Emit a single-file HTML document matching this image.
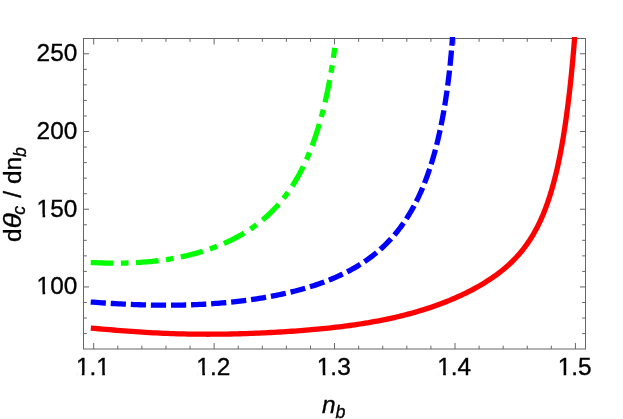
<!DOCTYPE html>
<html><head><meta charset="utf-8"><title>plot</title>
<style>
html,body{margin:0;padding:0;background:#fff;}
svg{display:block;will-change:transform;}
text{font-family:"Liberation Sans",sans-serif;font-size:24.4px;fill:#000;stroke:#000;stroke-width:0.35px;}
.it{font-style:italic;}
</style></head>
<body>
<svg width="623" height="419" viewBox="0 0 623 419">
<rect x="0" y="0" width="623" height="419" fill="#fff"/>
<defs><clipPath id="cp"><rect x="83.5" y="37.0" width="502.0" height="312.0"/></clipPath></defs>
<g stroke="#666" stroke-width="1" fill="none">
<rect x="83.5" y="38.5" width="502.0" height="310.50"/>
<path d="M93.70 349.00v-6.00M93.70 38.50v6.00"/>
<path d="M117.79 349.00v-3.30M117.79 38.50v3.30"/>
<path d="M141.87 349.00v-3.30M141.87 38.50v3.30"/>
<path d="M165.96 349.00v-3.30M165.96 38.50v3.30"/>
<path d="M190.04 349.00v-3.30M190.04 38.50v3.30"/>
<path d="M214.13 349.00v-6.00M214.13 38.50v6.00"/>
<path d="M238.22 349.00v-3.30M238.22 38.50v3.30"/>
<path d="M262.30 349.00v-3.30M262.30 38.50v3.30"/>
<path d="M286.39 349.00v-3.30M286.39 38.50v3.30"/>
<path d="M310.47 349.00v-3.30M310.47 38.50v3.30"/>
<path d="M334.56 349.00v-6.00M334.56 38.50v6.00"/>
<path d="M358.65 349.00v-3.30M358.65 38.50v3.30"/>
<path d="M382.73 349.00v-3.30M382.73 38.50v3.30"/>
<path d="M406.82 349.00v-3.30M406.82 38.50v3.30"/>
<path d="M430.90 349.00v-3.30M430.90 38.50v3.30"/>
<path d="M454.99 349.00v-6.00M454.99 38.50v6.00"/>
<path d="M479.08 349.00v-3.30M479.08 38.50v3.30"/>
<path d="M503.16 349.00v-3.30M503.16 38.50v3.30"/>
<path d="M527.25 349.00v-3.30M527.25 38.50v3.30"/>
<path d="M551.33 349.00v-3.30M551.33 38.50v3.30"/>
<path d="M575.42 349.00v-6.00M575.42 38.50v6.00"/>
<path d="M83.50 333.58h3.30M585.50 333.58h-3.30"/>
<path d="M83.50 318.04h3.30M585.50 318.04h-3.30"/>
<path d="M83.50 302.49h3.30M585.50 302.49h-3.30"/>
<path d="M83.50 286.95h5.60M585.50 286.95h-5.60"/>
<path d="M83.50 271.41h3.30M585.50 271.41h-3.30"/>
<path d="M83.50 255.86h3.30M585.50 255.86h-3.30"/>
<path d="M83.50 240.32h3.30M585.50 240.32h-3.30"/>
<path d="M83.50 224.77h3.30M585.50 224.77h-3.30"/>
<path d="M83.50 209.23h5.60M585.50 209.23h-5.60"/>
<path d="M83.50 193.69h3.30M585.50 193.69h-3.30"/>
<path d="M83.50 178.14h3.30M585.50 178.14h-3.30"/>
<path d="M83.50 162.60h3.30M585.50 162.60h-3.30"/>
<path d="M83.50 147.05h3.30M585.50 147.05h-3.30"/>
<path d="M83.50 131.51h5.60M585.50 131.51h-5.60"/>
<path d="M83.50 115.97h3.30M585.50 115.97h-3.30"/>
<path d="M83.50 100.42h3.30M585.50 100.42h-3.30"/>
<path d="M83.50 84.88h3.30M585.50 84.88h-3.30"/>
<path d="M83.50 69.33h3.30M585.50 69.33h-3.30"/>
<path d="M83.50 53.79h5.60M585.50 53.79h-5.60"/>
</g>
<g clip-path="url(#cp)" fill="none" stroke-width="5.3">
<path d="M90.70 262.46L92.58 262.56L94.46 262.64L96.33 262.72L98.19 262.80L100.05 262.87L101.90 262.93L103.74 262.98L105.57 263.03L107.39 263.06L109.21 263.10L111.02 263.12L112.83 263.14L114.62 263.15L116.41 263.15L118.20 263.14L119.97 263.13L121.74 263.10L123.50 263.07L125.25 263.04L127.00 262.99L128.74 262.94L130.47 262.88L132.19 262.81L133.91 262.73L135.62 262.65L137.32 262.55L139.01 262.45L140.70 262.34L142.38 262.23L144.05 262.10L145.72 261.97L147.38 261.83L149.03 261.68L150.67 261.52L152.31 261.35L153.94 261.18L155.56 261.00L157.17 260.81L158.78 260.61L160.38 260.41L161.97 260.20L163.56 259.97L165.13 259.75L166.71 259.51L168.27 259.26L169.82 259.01L171.37 258.75L172.92 258.48L174.45 258.21L175.98 257.92L177.50 257.63L179.01 257.33L180.51 257.02L182.01 256.71L183.50 256.39L184.98 256.05L186.46 255.72L187.93 255.37L189.39 255.02L190.84 254.65L192.29 254.29L193.73 253.91L195.16 253.52L196.59 253.13L198.01 252.73L199.42 252.32L200.82 251.91L202.22 251.48L203.60 251.05L204.98 250.61L206.36 250.17L207.73 249.71L209.08 249.25L210.44 248.78L211.78 248.30L213.12 247.82L214.45 247.33L215.77 246.82L217.09 246.32L218.40 245.80L219.70 245.27L220.99 244.74L222.28 244.20L223.56 243.65L224.83 243.09L226.09 242.53L227.35 241.96L228.60 241.37L229.84 240.78L231.08 240.19L232.31 239.58L233.53 238.97L234.74 238.34L235.95 237.71L237.15 237.07L238.34 236.42L239.52 235.77L240.70 235.10L241.87 234.42L243.03 233.74L244.19 233.05L245.33 232.35L246.47 231.64L247.61 230.92L248.73 230.19L249.85 229.45L250.96 228.70L252.07 227.94L253.17 227.18L254.26 226.40L255.34 225.62L256.41 224.82L257.48 224.02L258.54 223.20L259.59 222.38L260.64 221.54L261.68 220.70L262.71 219.84L263.73 218.98L264.75 218.10L265.76 217.22L266.76 216.32L267.76 215.42L268.75 214.50L269.73 213.57L270.70 212.63L271.66 211.68L272.62 210.72L273.57 209.75L274.52 208.77L275.45 207.77L276.38 206.77L277.31 205.75L278.22 204.73L279.13 203.69L280.03 202.64L280.92 201.57L281.81 200.50L282.68 199.42L283.56 198.32L284.42 197.21L285.28 196.09L286.12 194.96L286.97 193.82L287.80 192.66L288.63 191.49L289.45 190.32L290.26 189.13L291.07 187.92L291.86 186.71L292.66 185.48L293.44 184.24L294.21 182.99L294.98 181.73L295.75 180.46L296.50 179.17L297.25 177.87L297.99 176.56L298.72 175.24L299.44 173.91L300.16 172.56L300.87 171.20L301.58 169.84L302.27 168.46L302.96 167.07L303.64 165.66L304.32 164.25L304.98 162.83L305.64 161.39L306.30 159.94L306.94 158.49L307.58 157.02L308.21 155.54L308.83 154.06L309.45 152.56L310.06 151.05L310.66 149.53L311.25 148.01L311.84 146.47L312.42 144.93L312.99 143.37L313.56 141.81L314.11 140.24L314.66 138.67L315.21 137.08L315.74 135.49L316.27 133.89L316.79 132.29L317.31 130.67L317.81 129.06L318.31 127.43L318.80 125.81L319.29 124.17L319.77 122.54L320.24 120.90L320.70 119.25L321.15 117.61L321.60 115.96L322.04 114.31L322.48 112.66L322.90 111.01L323.32 109.36L323.73 107.71L324.14 106.06L324.54 104.41L324.93 102.77L325.31 101.12L325.68 99.49L326.05 97.85L326.41 96.23L326.77 94.61L327.11 92.99L327.45 91.38L327.78 89.79L328.11 88.20L328.42 86.62L328.73 85.06L329.04 83.50L329.33 81.96L329.62 80.43L329.90 78.92L330.17 77.43L330.44 75.95L330.70 74.49L330.95 73.05L331.19 71.63L331.43 70.24L331.66 68.86L331.88 67.52L332.10 66.19L332.31 64.90L332.51 63.63L332.70 62.39L332.88 61.18L333.06 60.01L333.23 58.87L333.40 57.76L333.56 56.70L333.70 55.67L333.85 54.68L333.98 53.73L334.11 52.83L334.23 51.97L334.34 51.16L334.45 50.39L334.55 49.68L334.64 49.02L334.72 48.42L334.79 47.90" stroke="#00ff00" stroke-dasharray="22.8 7.4 7.65 7.4"/>
<path d="M90.70 302.03L93.51 302.23L96.30 302.43L99.09 302.63L101.87 302.82L104.63 303.00L107.38 303.18L110.13 303.35L112.86 303.51L115.58 303.67L118.29 303.82L120.99 303.96L123.67 304.10L126.35 304.23L129.02 304.35L131.67 304.46L134.32 304.57L136.95 304.67L139.58 304.76L142.19 304.84L144.79 304.92L147.38 304.98L149.96 305.04L152.53 305.09L155.09 305.13L157.63 305.17L160.17 305.19L162.69 305.21L165.21 305.22L167.71 305.22L170.20 305.21L172.69 305.20L175.16 305.17L177.62 305.14L180.07 305.10L182.50 305.05L184.93 304.99L187.35 304.93L189.75 304.85L192.15 304.77L194.53 304.68L196.91 304.58L199.27 304.47L201.62 304.35L203.96 304.23L206.29 304.10L208.61 303.95L210.92 303.80L213.21 303.65L215.50 303.48L217.78 303.31L220.04 303.12L222.29 302.93L224.54 302.74L226.77 302.53L228.99 302.31L231.20 302.09L233.40 301.86L235.59 301.62L237.77 301.37L239.93 301.12L242.09 300.86L244.23 300.58L246.37 300.31L248.49 300.02L250.60 299.72L252.71 299.42L254.80 299.11L256.88 298.79L258.95 298.47L261.00 298.13L263.05 297.79L265.09 297.44L267.11 297.08L269.13 296.72L271.13 296.34L273.12 295.96L275.11 295.57L277.08 295.17L279.04 294.76L280.99 294.35L282.93 293.93L284.85 293.50L286.77 293.06L288.68 292.61L290.57 292.15L292.46 291.69L294.33 291.22L296.19 290.74L298.05 290.25L299.89 289.75L301.72 289.24L303.54 288.73L305.34 288.20L307.14 287.67L308.93 287.13L310.70 286.58L312.47 286.02L314.22 285.45L315.97 284.87L317.70 284.28L319.42 283.68L321.13 283.08L322.83 282.46L324.52 281.83L326.20 281.19L327.87 280.54L329.52 279.89L331.17 279.22L332.80 278.54L334.43 277.85L336.04 277.15L337.64 276.44L339.23 275.71L340.81 274.98L342.38 274.23L343.94 273.48L345.49 272.71L347.02 271.92L348.55 271.13L350.07 270.33L351.57 269.51L353.06 268.68L354.55 267.83L356.02 266.97L357.48 266.10L358.93 265.22L360.37 264.32L361.80 263.41L363.21 262.48L364.62 261.54L366.02 260.59L367.40 259.62L368.77 258.63L370.14 257.64L371.49 256.62L372.83 255.59L374.16 254.54L375.48 253.48L376.79 252.40L378.09 251.31L379.37 250.19L380.65 249.06L381.92 247.92L383.17 246.75L384.41 245.57L385.65 244.37L386.87 243.16L388.08 241.92L389.28 240.66L390.47 239.39L391.65 238.10L392.82 236.79L393.97 235.46L395.12 234.10L396.25 232.73L397.38 231.34L398.49 229.93L399.59 228.50L400.68 227.04L401.76 225.57L402.83 224.07L403.89 222.55L404.94 221.01L405.98 219.45L407.01 217.87L408.02 216.26L409.03 214.63L410.02 212.98L411.00 211.31L411.97 209.61L412.94 207.89L413.89 206.14L414.83 204.37L415.75 202.58L416.67 200.76L417.58 198.92L418.47 197.05L419.36 195.16L420.23 193.24L421.10 191.30L421.95 189.34L422.79 187.34L423.62 185.33L424.44 183.28L425.25 181.22L426.05 179.12L426.84 177.00L427.61 174.86L428.38 172.69L429.13 170.49L429.88 168.26L430.61 166.01L431.33 163.74L432.05 161.43L432.75 159.10L433.44 156.75L434.11 154.37L434.78 151.96L435.44 149.52L436.09 147.06L436.72 144.58L437.35 142.06L437.96 139.53L438.56 136.96L439.15 134.37L439.74 131.75L440.31 129.11L440.87 126.44L441.41 123.75L441.95 121.03L442.48 118.29L442.99 115.52L443.50 112.73L443.99 109.91L444.48 107.07L444.95 104.20L445.41 101.31L445.86 98.40L446.30 95.47L446.73 92.51L447.15 89.53L447.56 86.53L447.95 83.50L448.34 80.46L448.71 77.39L449.08 74.31L449.43 71.21L449.77 68.08L450.10 64.94L450.42 61.78L450.73 58.60L451.03 55.41L451.32 52.20L451.60 48.97L451.86 45.73L452.12 42.47L452.36 39.20L452.60 35.92L452.72 34.00" stroke="#0000ff" stroke-dasharray="15.2 4.89"/>
<path d="M90.80 328.10L94.58 328.42L98.35 328.74L102.10 329.05L105.84 329.37L109.56 329.68L113.27 329.99L116.96 330.29L120.64 330.59L124.31 330.87L127.96 331.15L131.59 331.42L135.21 331.67L138.82 331.92L142.41 332.15L145.99 332.37L149.55 332.58L153.09 332.78L156.63 332.96L160.15 333.13L163.65 333.29L167.14 333.43L170.61 333.57L174.07 333.69L177.52 333.79L180.95 333.89L184.36 333.97L187.76 334.04L191.15 334.10L194.52 334.15L197.88 334.18L201.22 334.21L204.55 334.22L207.86 334.23L211.16 334.22L214.45 334.20L217.72 334.18L220.97 334.14L224.21 334.10L227.44 334.05L230.65 333.98L233.84 333.91L237.02 333.84L240.19 333.75L243.34 333.66L246.48 333.56L249.61 333.45L252.71 333.33L255.81 333.21L258.89 333.08L261.95 332.95L265.00 332.81L268.04 332.66L271.06 332.50L274.06 332.34L277.06 332.18L280.03 332.00L282.99 331.82L285.94 331.64L288.87 331.44L291.79 331.25L294.70 331.04L297.59 330.83L300.46 330.61L303.32 330.39L306.17 330.16L309.00 329.92L311.81 329.68L314.61 329.43L317.40 329.17L320.17 328.91L322.93 328.64L325.67 328.36L328.40 328.07L331.11 327.78L333.81 327.48L336.50 327.17L339.17 326.85L341.82 326.52L344.46 326.19L347.09 325.85L349.70 325.50L352.30 325.14L354.88 324.77L357.45 324.39L360.00 324.00L362.54 323.61L365.06 323.20L367.57 322.79L370.06 322.36L372.54 321.93L375.01 321.48L377.46 321.03L379.89 320.56L382.31 320.09L384.72 319.60L387.11 319.11L389.49 318.60L391.85 318.08L394.20 317.56L396.53 317.02L398.85 316.47L401.15 315.91L403.44 315.34L405.72 314.76L407.98 314.17L410.22 313.57L412.46 312.95L414.67 312.33L416.87 311.69L419.06 311.05L421.23 310.39L423.39 309.73L425.53 309.05L427.66 308.36L429.77 307.66L431.87 306.95L433.96 306.23L436.03 305.50L438.08 304.76L440.12 304.01L442.15 303.25L444.16 302.47L446.16 301.69L448.14 300.89L450.11 300.09L452.06 299.27L454.00 298.45L455.92 297.61L457.83 296.76L459.73 295.91L461.61 295.04L463.47 294.16L465.32 293.26L467.16 292.36L468.98 291.45L470.79 290.52L472.58 289.58L474.35 288.63L476.12 287.67L477.87 286.70L479.60 285.71L481.32 284.71L483.02 283.69L484.71 282.66L486.39 281.62L488.05 280.56L489.69 279.49L491.32 278.40L492.94 277.30L494.54 276.17L496.13 275.03L497.70 273.87L499.26 272.69L500.80 271.50L502.33 270.28L503.85 269.04L505.34 267.77L506.83 266.49L508.30 265.18L509.76 263.84L511.20 262.48L512.62 261.09L514.03 259.67L515.43 258.23L516.81 256.75L518.18 255.24L519.53 253.69L520.87 252.11L522.20 250.50L523.51 248.84L524.80 247.15L526.08 245.42L527.35 243.64L528.60 241.82L529.83 239.96L531.05 238.05L532.26 236.09L533.45 234.08L534.63 232.01L535.79 229.90L536.94 227.73L538.08 225.50L539.19 223.21L540.30 220.86L541.39 218.45L542.46 215.98L543.52 213.44L544.57 210.83L545.60 208.15L546.62 205.41L547.62 202.58L548.61 199.69L549.58 196.72L550.54 193.67L551.48 190.54L552.41 187.34L553.33 184.05L554.23 180.67L555.11 177.22L555.98 173.67L556.84 170.05L557.68 166.33L558.50 162.53L559.32 158.64L560.11 154.66L560.90 150.58L561.66 146.42L562.42 142.18L563.16 137.84L563.88 133.41L564.59 128.89L565.28 124.29L565.96 119.60L566.63 114.82L567.28 109.96L567.92 105.02L568.54 100.00L569.15 94.91L569.74 89.74L570.32 84.50L570.88 79.19L571.43 73.82L571.96 68.38L572.48 62.90L572.99 57.37L573.48 51.79L573.95 46.18L574.41 40.54L574.86 34.87L574.93 34.00" stroke="#ff0000"/>
</g>
<text x="92.90" y="375.3" text-anchor="middle">1.1</text>
<text x="213.33" y="375.3" text-anchor="middle">1.2</text>
<text x="333.76" y="375.3" text-anchor="middle">1.3</text>
<text x="454.19" y="375.3" text-anchor="middle">1.4</text>
<text x="574.62" y="375.3" text-anchor="middle">1.5</text>
<text x="77.3" y="294.30" text-anchor="end">100</text>
<text x="77.3" y="216.58" text-anchor="end">150</text>
<text x="77.3" y="138.86" text-anchor="end">200</text>
<text x="77.3" y="61.14" text-anchor="end">250</text>
<g fill="#fff"><rect x="77.14" y="372.95" width="4.75" height="3.7"/><rect x="84.54" y="372.95" width="4.6" height="3.7"/><rect x="97.49" y="372.95" width="4.75" height="3.7"/><rect x="104.89" y="372.95" width="4.6" height="3.7"/><rect x="197.57" y="372.95" width="4.75" height="3.7"/><rect x="204.97" y="372.95" width="4.6" height="3.7"/><rect x="318.00" y="372.95" width="4.75" height="3.7"/><rect x="325.40" y="372.95" width="4.6" height="3.7"/><rect x="438.43" y="372.95" width="4.75" height="3.7"/><rect x="445.83" y="372.95" width="4.6" height="3.7"/><rect x="558.86" y="372.95" width="4.75" height="3.7"/><rect x="566.26" y="372.95" width="4.6" height="3.7"/><rect x="37.80" y="291.95" width="4.75" height="3.7"/><rect x="45.20" y="291.95" width="4.6" height="3.7"/><rect x="37.80" y="214.23" width="4.75" height="3.7"/><rect x="45.20" y="214.23" width="4.6" height="3.7"/></g>
<text x="322" y="412.5"><tspan class="it">n</tspan><tspan class="it" font-size="17.8px" dy="5">b</tspan></text>
<text transform="translate(20.5,242) rotate(-90)">d<tspan class="it" textLength="15.2" lengthAdjust="spacingAndGlyphs">θ</tspan><tspan class="it" font-size="17.8px" dx="-1.6" dy="4.8">c</tspan><tspan dx="1.5" dy="-4.8"> / dn</tspan><tspan class="it" font-size="17.8px" dy="5">b</tspan></text>
</svg>
</body></html>
